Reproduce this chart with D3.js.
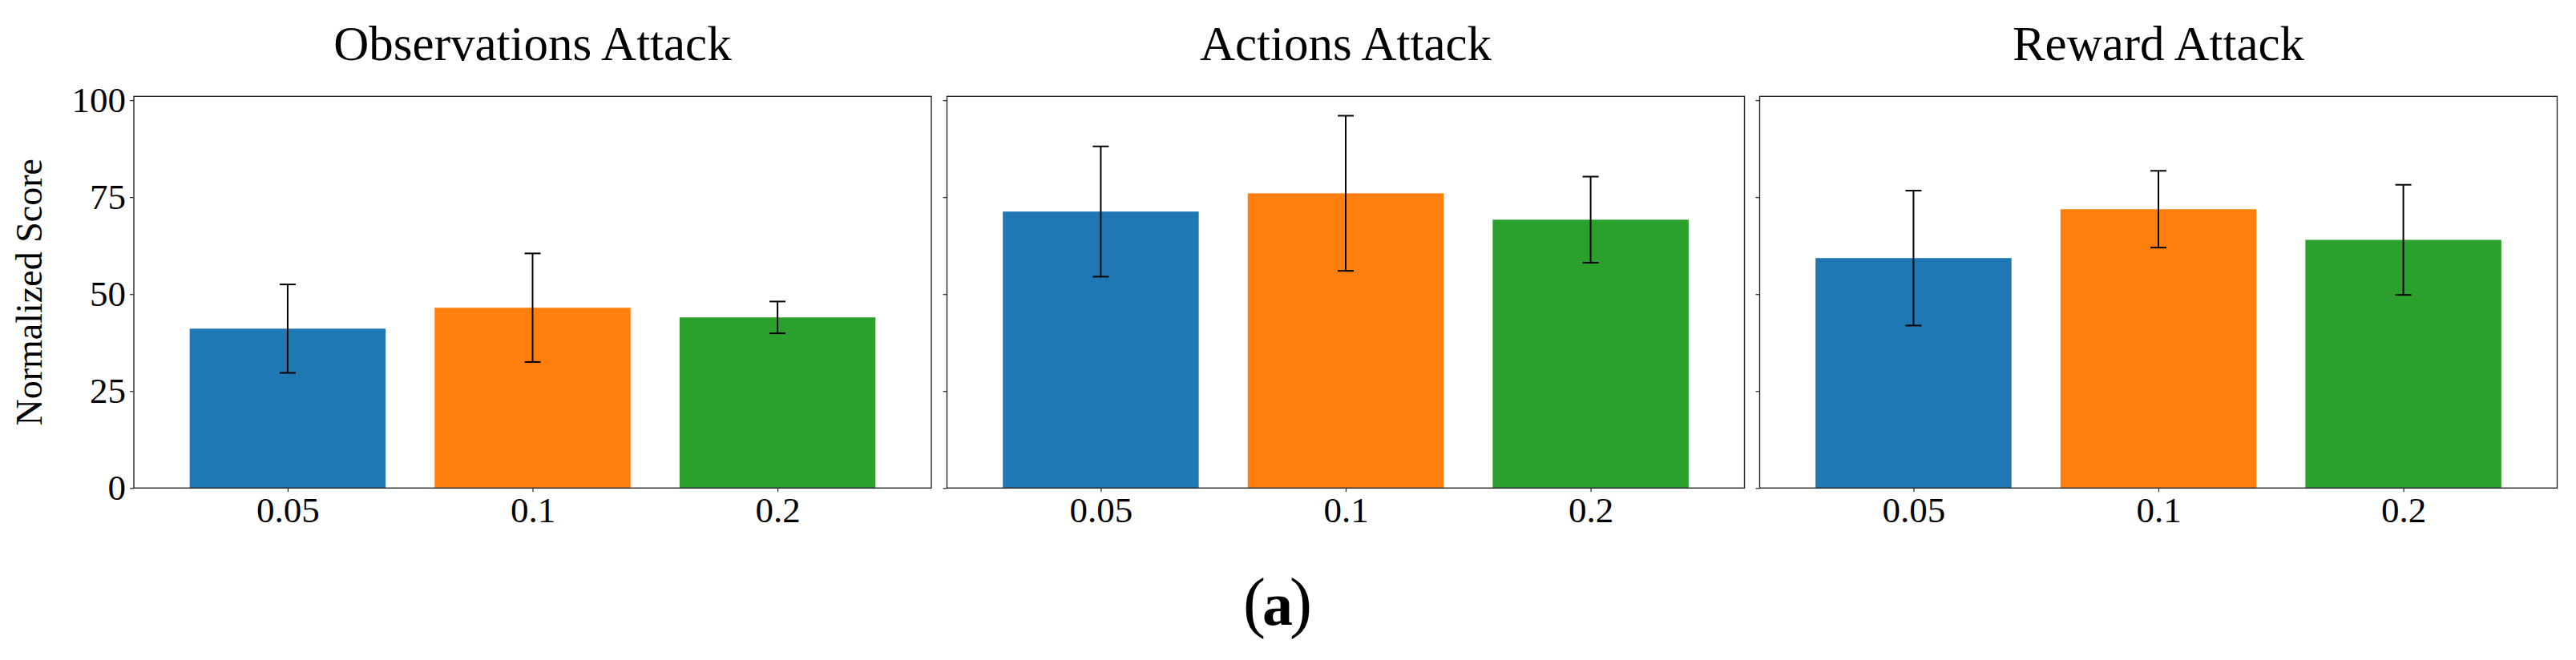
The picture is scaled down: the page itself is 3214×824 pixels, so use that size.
<!DOCTYPE html>
<html>
<head>
<meta charset="utf-8">
<script src="https://cdn.jsdelivr.net/npm/d3@7"></script>
<style>
  html, body { margin: 0; padding: 0; background: #fff; }
  svg { display: block; }
  text { font-family: "Liberation Serif", "Times New Roman", serif; fill: #000; }
</style>
</head>
<body>
<svg id="chart" width="3214" height="824"></svg>
<script>
// ---- data ----
const panelTitles = ["Observations Attack", "Actions Attack", "Reward Attack"];
const categories = ["0.05", "0.1", "0.2"];
const obsMeans = [41.1, 46.5, 44.0];
const obsErr   = [11.4, 14.0, 4.1];
const actMeans = [71.3, 76.0, 69.2];
const actErr   = [16.8, 20.0, 11.1];
const rewMeans = [59.3, 71.9, 64.0];
const rewErr   = [17.4, 9.9, 14.2];
const yTicks = [0, 25, 50, 75, 100];
const yLabel = "Normalized Score";
const caption = "a";
const colors = ["#1f77b4", "#ff7f0e", "#2ca02c"];

const series = [
  { title: panelTitles[0], means: obsMeans, errs: obsErr },
  { title: panelTitles[1], means: actMeans, errs: actErr },
  { title: panelTitles[2], means: rewMeans, errs: rewErr }
];

// ---- layout ----
const svg = d3.select("#chart");
const plotTop = 120.3, plotBottom = 609.3;
const panelLeft = [167, 1181.5, 2195.5];
const panelW = 995;
const frameColor = "#262626";

const y = d3.scaleLinear().domain([0, 101.0]).range([plotBottom, plotTop]);

series.forEach((s, pi) => {
  const x0 = panelLeft[pi];
  const g = svg.append("g").attr("transform", `translate(${x0},0)`);
  const x = d3.scaleLinear().domain([-0.628, categories.length - 1 + 0.628]).range([0, panelW]);
  const barW = x(0.8) - x(0);

  // bars
  g.selectAll("rect.bar").data(s.means).enter().append("rect")
    .attr("class", "bar")
    .attr("x", (d, i) => x(i) - barW / 2)
    .attr("width", barW)
    .attr("y", d => y(d))
    .attr("height", d => y(0) - y(d))
    .attr("fill", (d, i) => colors[i]);

  // error bars
  const eg = g.selectAll("g.err").data(s.means).enter().append("g").attr("class", "err");
  eg.append("line")
    .attr("x1", (d, i) => x(i)).attr("x2", (d, i) => x(i))
    .attr("y1", (d, i) => y(d - s.errs[i])).attr("y2", (d, i) => y(d + s.errs[i]))
    .attr("stroke", "#000").attr("stroke-width", 2);
  [-1, 1].forEach(sign => {
    eg.append("line")
      .attr("x1", (d, i) => x(i) - 10).attr("x2", (d, i) => x(i) + 10)
      .attr("y1", (d, i) => y(d + sign * s.errs[i])).attr("y2", (d, i) => y(d + sign * s.errs[i]))
      .attr("stroke", "#000").attr("stroke-width", 2);
  });

  // frame
  g.append("rect")
    .attr("x", 0).attr("y", plotTop)
    .attr("width", panelW).attr("height", plotBottom - plotTop)
    .attr("fill", "none").attr("stroke", frameColor).attr("stroke-width", 1.4);

  // x axis
  const xAxis = d3.axisBottom(x)
    .tickValues(d3.range(categories.length))
    .tickFormat(i => categories[i])
    .tickSize(5).tickPadding(6);
  const xg = g.append("g").attr("transform", `translate(0,${plotBottom})`).call(xAxis);
  xg.select(".domain").remove();
  xg.selectAll("line").attr("stroke", frameColor).attr("stroke-width", 1.2);
  xg.selectAll("text").style("font-size", "45px").style("font-family", "Liberation Serif").attr("fill", "#000");

  // y axis
  const yAxis = d3.axisLeft(y).tickValues(yTicks).tickSize(5).tickPadding(5)
    .tickFormat(pi === 0 ? d3.format("d") : () => "");
  const yg = g.append("g").call(yAxis);
  yg.select(".domain").remove();
  yg.selectAll("line").attr("stroke", frameColor).attr("stroke-width", 1.2);
  yg.selectAll("text").style("font-size", "45px").style("font-family", "Liberation Serif").attr("fill", "#000");

  // title
  g.append("text")
    .attr("x", panelW / 2).attr("y", 75)
    .attr("text-anchor", "middle")
    .style("font-size", "61px")
    .text(s.title);
});

// y label
svg.append("text")
  .attr("transform", `translate(52,${(plotTop + plotBottom) / 2}) rotate(-90)`)
  .attr("text-anchor", "middle")
  .style("font-size", "46px")
  .text(yLabel);

// caption
const cap = svg.append("text")
  .attr("x", 1594).attr("y", 780)
  .attr("text-anchor", "middle");
cap.append("tspan").style("font-size", "84px").text("(");
cap.append("tspan").attr("dx", -4).style("font-size", "76px").style("font-weight", "bold").text(caption);
cap.append("tspan").attr("dx", -4).style("font-size", "84px").text(")");
</script>
</body>
</html>
